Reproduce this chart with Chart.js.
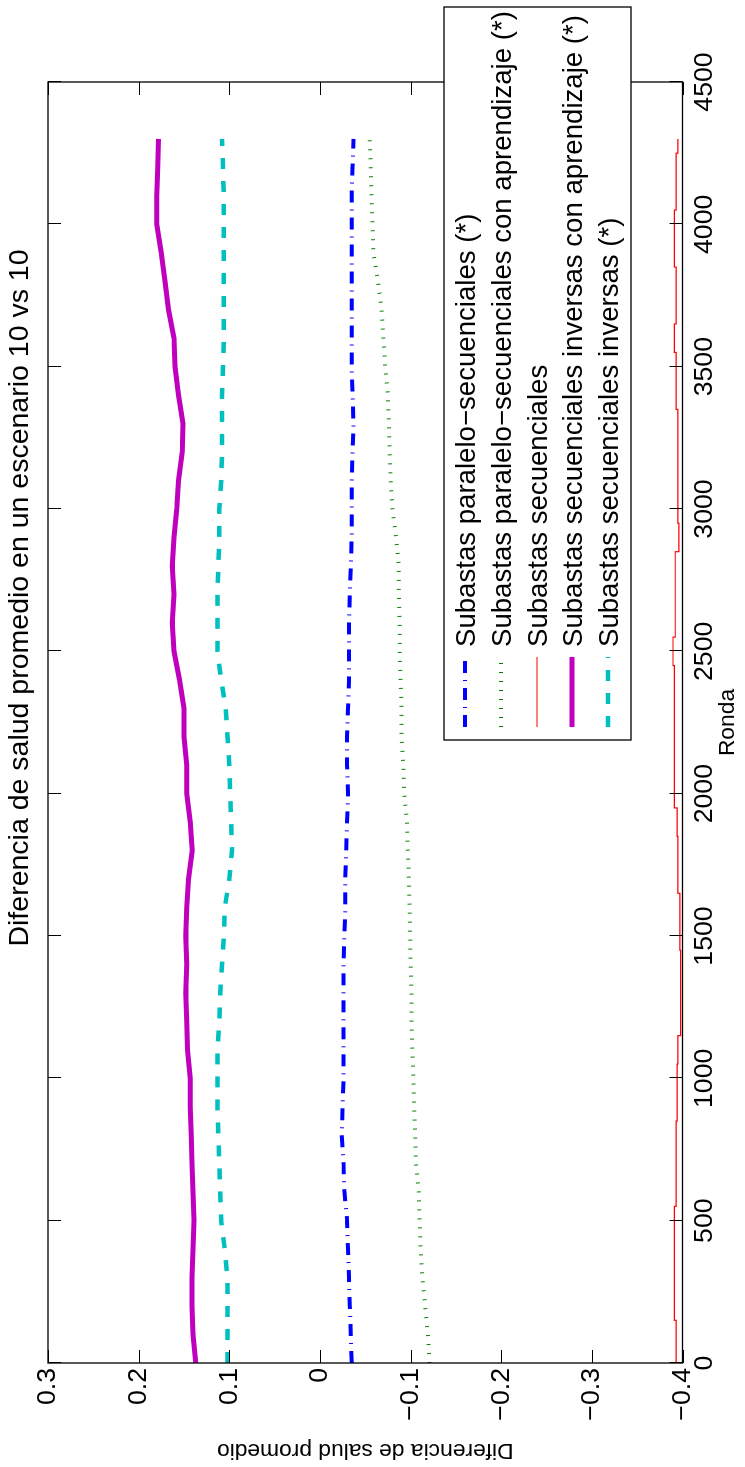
<!DOCTYPE html>
<html><head><meta charset="utf-8">
<script src="https://cdn.jsdelivr.net/npm/chart.js@4.4.1/dist/chart.umd.min.js"></script>
<style>
html,body{margin:0;padding:0;background:#fff;overflow:hidden;width:745px;height:1467px;}
#wrap{position:absolute;left:0;top:0;width:1467px;height:745px;transform-origin:0 0;transform:translate(0px,1467px) rotate(-90deg);background:#fff;}
canvas{display:block;}
</style></head><body>
<div id="wrap"><canvas id="c" width="1467" height="745"></canvas></div>
<script>
// ---- data ----
const chartTitle = 'Diferencia de salud promedio en un escenario 10 vs 10';
const xAxisTitle = 'Ronda';
const yAxisTitle = 'Diferencia de salud promedio';
const xTickValues = [0,500,1000,1500,2000,2500,3000,3500,4000,4500];
const xTickLabels = ['0','500','1000','1500','2000','2500','3000','3500','4000','4500'];
const yTickValues = [-0.4,-0.3,-0.2,-0.1,0,0.1,0.2,0.3];
const yTickLabels = ['\u22120.4','\u22120.3','\u22120.2','\u22120.1','0','0.1','0.2','0.3'];
const legendLabels = [
  'Subastas paralelo\u2212secuenciales (*)',
  'Subastas paralelo\u2212secuenciales con aprendizaje (*)',
  'Subastas secuenciales',
  'Subastas secuenciales inversas con aprendizaje (*)',
  'Subastas secuenciales inversas (*)'
];
const rondas = [0,100,200,300,400,500,600,700,800,900,1000,1100,1200,1300,1400,1500,1600,1700,1800,1900,2000,2100,2200,2300,2400,2500,2600,2700,2800,2900,3000,3100,3200,3300,3400,3500,3600,3700,3800,3900,4000,4100,4200,4300];
const paraleloSecuenciales = [-0.035,-0.034,-0.033,-0.032,-0.031,-0.030,-0.027,-0.026,-0.024,-0.025,-0.026,-0.026,-0.026,-0.026,-0.026,-0.027,-0.028,-0.028,-0.029,-0.030,-0.031,-0.030,-0.030,-0.031,-0.032,-0.032,-0.032,-0.033,-0.034,-0.035,-0.035,-0.035,-0.036,-0.037,-0.036,-0.035,-0.035,-0.035,-0.035,-0.035,-0.035,-0.035,-0.036,-0.037];
const paraleloAprendizaje = [-0.121,-0.119,-0.116,-0.113,-0.111,-0.110,-0.109,-0.106,-0.105,-0.104,-0.103,-0.102,-0.101,-0.101,-0.100,-0.0995,-0.099,-0.098,-0.097,-0.096,-0.093,-0.092,-0.090,-0.090,-0.089,-0.088,-0.088,-0.087,-0.087,-0.084,-0.080,-0.078,-0.077,-0.076,-0.075,-0.072,-0.070,-0.068,-0.064,-0.059,-0.058,-0.057,-0.056,-0.055];
const secuenciales = [-0.393,-0.393,-0.391,-0.391,-0.391,-0.391,-0.393,-0.393,-0.393,-0.394,-0.394,-0.395,-0.398,-0.398,-0.398,-0.397,-0.397,-0.395,-0.395,-0.394,-0.391,-0.391,-0.391,-0.391,-0.391,-0.3895,-0.392,-0.392,-0.392,-0.396,-0.395,-0.395,-0.395,-0.395,-0.393,-0.393,-0.391,-0.393,-0.393,-0.391,-0.391,-0.393,-0.393,-0.395];
const inversasAprendizaje = [0.137,0.140,0.141,0.141,0.140,0.139,0.140,0.141,0.142,0.143,0.143,0.146,0.147,0.148,0.147,0.148,0.147,0.145,0.141,0.143,0.147,0.147,0.150,0.150,0.155,0.161,0.163,0.161,0.163,0.161,0.158,0.156,0.152,0.151,0.156,0.160,0.161,0.167,0.171,0.175,0.180,0.180,0.179,0.178];
const inversas = [0.102,0.102,0.102,0.102,0.105,0.109,0.110,0.111,0.112,0.113,0.113,0.113,0.111,0.110,0.108,0.106,0.105,0.100,0.097,0.098,0.099,0.100,0.102,0.104,0.109,0.113,0.113,0.113,0.112,0.111,0.111,0.109,0.108,0.108,0.108,0.107,0.106,0.106,0.106,0.106,0.106,0.106,0.107,0.108];

// ---- chart ----
const FONT = '"Liberation Sans", Arial, Helvetica, sans-serif';
const FS = 26.7;      // tick labels
const FS_TITLE = 28.5;
const FS_LEG = 27.6;
const FS_AXT = 22.8;  // axis titles
const pts = vals => rondas.map((r, i) => ({x: r, y: vals[i]}));

const frameTicks = {
  id: 'frameTicks',
  afterDatasetsDraw(chart) {
    const {ctx, chartArea: a, scales: {x, y}} = chart;
    ctx.save();
    ctx.strokeStyle = '#000';
    ctx.lineWidth = 1;
    const L = 13;
    ctx.beginPath();
    xTickValues.forEach(v => {
      const px = Math.round(x.getPixelForValue(v)) + 0.5;
      ctx.moveTo(px, a.bottom); ctx.lineTo(px, a.bottom - L);
      ctx.moveTo(px, a.top); ctx.lineTo(px, a.top + L);
    });
    yTickValues.forEach(v => {
      const py = Math.round(y.getPixelForValue(v)) + 0.5;
      ctx.moveTo(a.left, py); ctx.lineTo(a.left + L, py);
      ctx.moveTo(a.right, py); ctx.lineTo(a.right - L, py);
    });
    ctx.stroke();
    ctx.lineWidth = 1.3;
    ctx.strokeRect(a.left, a.top, a.right - a.left, a.bottom - a.top);
    ctx.restore();
  },
  afterDraw(chart) {
    const {ctx} = chart;
    ctx.save();
    // title
    ctx.fillStyle = '#000';
    ctx.font = FS_TITLE + 'px ' + FONT;
    ctx.textAlign = 'center';
    ctx.textBaseline = 'middle';
    ctx.fillText(chartTitle, 869, 20);
    // legend
    const bx = 727, by = 444, bw = 733, bh = 187;
    ctx.fillStyle = '#fff';
    ctx.fillRect(bx, by, bw, bh);
    ctx.strokeStyle = '#000';
    ctx.lineWidth = 1.3;
    ctx.strokeRect(bx, by, bw, bh);
    const rows = [465, 501, 537, 572, 608];
    ctx.font = FS_LEG + 'px ' + FONT;
    chart.data.datasets.forEach((ds, i) => {
      const ry = rows[i];
      ctx.save();
      ctx.strokeStyle = ds.borderColor;
      ctx.lineWidth = ds.borderWidth;
      ctx.lineCap = 'butt';
      ctx.setLineDash(ds.borderDash || []);
      ctx.beginPath();
      ctx.moveTo(740, ry); ctx.lineTo(810, ry);
      ctx.stroke();
      ctx.restore();
      ctx.fillStyle = '#000';
      ctx.textAlign = 'left';
      ctx.textBaseline = 'middle';
      ctx.fillText(ds.label, 820, ry + 2);
    });
    ctx.restore();
  }
};

new Chart(document.getElementById('c'), {
  type: 'line',
  data: {
    datasets: [
      {label: legendLabels[0], data: pts(paraleloSecuenciales), borderColor: '#0000ff', borderWidth: 4, borderDash: [12, 7, 1, 7]},
      {label: legendLabels[1], data: pts(paraleloAprendizaje), borderColor: '#008000', borderWidth: 4, borderDash: [1, 8]},
      {label: legendLabels[2], data: pts(secuenciales), borderColor: '#ff0000', borderWidth: 1.2, stepped: 'middle'},
      {label: legendLabels[3], data: pts(inversasAprendizaje), borderColor: '#bf00bf', borderWidth: 5},
      {label: legendLabels[4], data: pts(inversas), borderColor: '#00bfbf', borderWidth: 4.5, borderDash: [11, 12]}
    ]
  },
  options: {
    responsive: false,
    animation: false,
    devicePixelRatio: 1,
    layout: {padding: {top: 48, right: 82, left: 0, bottom: 0}},
    elements: {point: {radius: 0}, line: {tension: 0, fill: false}},
    plugins: {legend: {display: false}, title: {display: false}, tooltip: {enabled: false}},
    scales: {
      x: {
        type: 'linear', min: 0, max: 4500,
        afterBuildTicks: s => { s.ticks = xTickValues.map(v => ({value: v})); },
        afterFit: s => { s.height = 62.5; },
        grid: {display: false, drawTicks: false, tickLength: 0},
        border: {display: false},
        ticks: {color: '#000', padding: 6, autoSkip: false, maxRotation: 0, font: {family: FONT, size: FS},
          callback: (v, i) => xTickLabels[i]},
        title: {display: true, text: xAxisTitle, color: '#000', font: {family: FONT, size: FS_AXT}, padding: {top: 0, bottom: 3.3}}
      },
      y: {
        type: 'linear', min: -0.4, max: 0.3,
        afterBuildTicks: s => { s.ticks = yTickValues.map(v => ({value: v})); },
        afterFit: s => { s.width = 104; },
        grid: {display: false, drawTicks: false, tickLength: 0},
        border: {display: false},
        ticks: {color: '#000', padding: 5, autoSkip: false, font: {family: FONT, size: FS},
          callback: (v, i) => yTickLabels[i]},
        title: {display: true, text: yAxisTitle, color: '#000', font: {family: FONT, size: FS_AXT}, padding: {top: 3.3, bottom: 0}}
      }
    }
  },
  plugins: [frameTicks]
});
</script>
</body></html>
